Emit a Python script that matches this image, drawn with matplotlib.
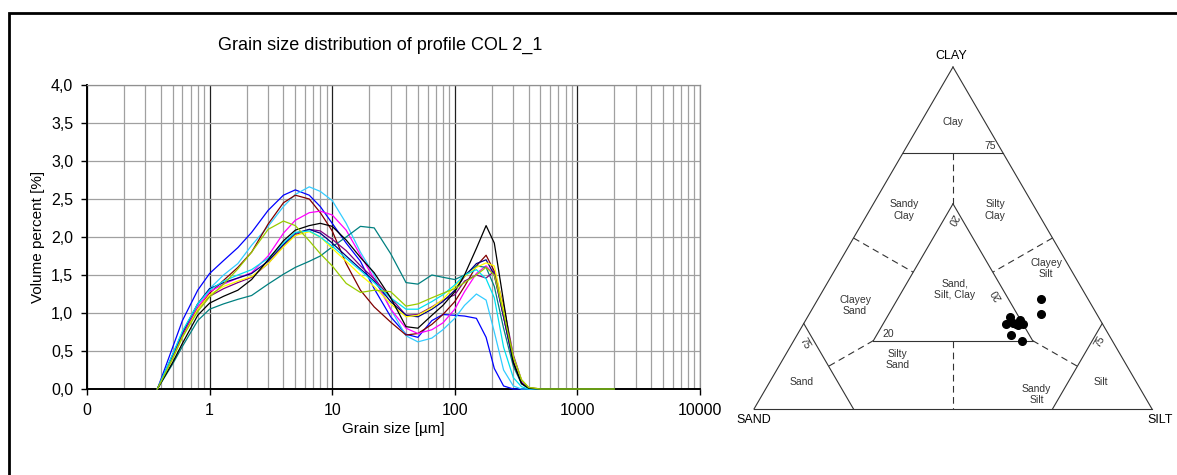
import numpy as np
import matplotlib
matplotlib.use('Agg')
import matplotlib.pyplot as plt
from matplotlib.patches import Rectangle

plt.rcParams['font.family'] = ['Liberation Sans', 'DejaVu Sans']

# grain size classes (um)
sizes = [0.375, 0.5, 0.6, 0.8, 1, 1.3, 1.7, 2.2, 3, 4, 5, 6.5, 8, 10, 13, 17, 22,
         30, 40, 50, 65, 80, 100, 120, 150, 180, 210, 250, 300, 350, 400, 500, 2000]

# volume percent per sample
blue = [0, 0.55, 0.9, 1.3, 1.52, 1.69, 1.86, 2.06, 2.35, 2.55, 2.62, 2.55, 2.4, 2.18, 1.92, 1.68, 1.32,
        0.95, 0.72, 0.68, 0.9, 0.98, 0.97, 0.96, 0.93, 0.68, 0.27, 0.04, 0, 0, 0, 0, 0]
sky = [0, 0.45, 0.75, 1.12, 1.32, 1.5, 1.65, 1.89, 2.14, 2.4, 2.56, 2.66, 2.6, 2.48, 2.18, 1.8, 1.5,
       1.05, 0.7, 0.62, 0.67, 0.78, 0.93, 1.1, 1.25, 1.17, 0.75, 0.25, 0.04, 0, 0, 0, 0]
maroon = [0, 0.42, 0.7, 1.05, 1.26, 1.43, 1.6, 1.8, 2.17, 2.45, 2.55, 2.5, 2.32, 2.08, 1.65, 1.3, 1.08,
          0.88, 0.71, 0.73, 0.85, 0.98, 1.15, 1.35, 1.62, 1.76, 1.55, 0.95, 0.35, 0.08, 0.01, 0, 0]
magenta = [0, 0.43, 0.72, 1.08, 1.28, 1.38, 1.46, 1.53, 1.75, 2.05, 2.22, 2.32, 2.34, 2.29, 2.09, 1.76, 1.45,
           1.05, 0.8, 0.73, 0.78, 0.87, 1.05, 1.28, 1.52, 1.62, 1.5, 0.95, 0.38, 0.1, 0.01, 0, 0]
ygreen = [0, 0.4, 0.68, 1.02, 1.21, 1.38, 1.58, 1.8, 2.1, 2.21, 2.15, 1.95, 1.78, 1.62, 1.39, 1.27, 1.3,
          1.28, 1.09, 1.12, 1.2, 1.26, 1.32, 1.4, 1.5, 1.6, 1.5, 1.0, 0.42, 0.12, 0.02, 0, 0]
black = [0, 0.35, 0.6, 0.97, 1.13, 1.22, 1.3, 1.44, 1.7, 1.95, 2.09, 2.15, 2.18, 2.14, 1.96, 1.73, 1.53,
         1.2, 0.82, 0.8, 0.97, 1.1, 1.28, 1.5, 1.85, 2.15, 1.92, 1.15, 0.35, 0.07, 0.01, 0, 0]
teal = [0, 0.33, 0.56, 0.9, 1.05, 1.12, 1.18, 1.23, 1.38, 1.51, 1.6, 1.68, 1.75, 1.87, 2.0, 2.14, 2.12,
        1.78, 1.4, 1.38, 1.5, 1.47, 1.44, 1.5, 1.62, 1.6, 1.35, 0.8, 0.3, 0.07, 0.01, 0, 0]
purple = [0, 0.42, 0.7, 1.06, 1.22, 1.32, 1.4, 1.47, 1.65, 1.88, 2.03, 2.1, 2.08, 1.97, 1.82, 1.62, 1.45,
          1.2, 0.97, 0.98, 1.08, 1.17, 1.24, 1.42, 1.5, 1.46, 1.55, 1.1, 0.45, 0.12, 0.02, 0, 0]
navy = [0, 0.45, 0.74, 1.12, 1.32, 1.4, 1.46, 1.52, 1.68, 1.9, 2.05, 2.1, 2.05, 1.92, 1.75, 1.58, 1.42,
        1.15, 0.97, 0.95, 1.05, 1.15, 1.3, 1.48, 1.65, 1.7, 1.5, 0.95, 0.35, 0.08, 0.01, 0, 0]
yellow = [0, 0.4, 0.68, 1.05, 1.24, 1.35, 1.42, 1.48, 1.65, 1.87, 2.02, 2.07, 2.0, 1.85, 1.68, 1.5, 1.35,
          1.12, 0.95, 0.97, 1.07, 1.18, 1.35, 1.48, 1.6, 1.66, 1.62, 1.05, 0.42, 0.12, 0.02, 0, 0]
cyan = [0, 0.46, 0.76, 1.12, 1.3, 1.42, 1.5, 1.57, 1.72, 1.92, 2.06, 2.08, 2.0, 1.88, 1.72, 1.56, 1.4,
        1.2, 1.05, 1.05, 1.15, 1.24, 1.37, 1.5, 1.57, 1.45, 1.2, 0.55, 0.15, 0.03, 0, 0, 0]

series = [(blue, '#0000FF'), (sky, '#33CCFF'), (maroon, '#800000'), (magenta, '#FF00FF'),
          (teal, '#008080'), (purple, '#800080'), (navy, '#000080'), (yellow, '#FFFF00'),
          (cyan, '#00E0F0'), (black, '#000000'), (ygreen, '#99CC00')]

xticks = [0.1, 1, 10, 100, 1000, 10000]
xticklabels = ['0', '1', '10', '100', '1000', '10000']
yticks = [0, 0.5, 1, 1.5, 2, 2.5, 3, 3.5, 4]

# ternary samples (fractions)
sand = [0.118, 0.139, 0.223, 0.242, 0.217, 0.202, 0.200, 0.246, 0.228, 0.224, 0.214]
silt = [0.561, 0.582, 0.509, 0.509, 0.534, 0.538, 0.551, 0.537, 0.573, 0.525, 0.540]
clay = [0.321, 0.279, 0.268, 0.249, 0.249, 0.260, 0.249, 0.217, 0.199, 0.251, 0.246]

W, H = 1177, 475
fig = plt.figure(figsize=(W / 100, H / 100), dpi=100)

# outer frame
fig.add_artist(Rectangle((8.5 / W, -0.1), 1.5, (H - 13.5) / H + 0.1,
                         transform=fig.transFigure, fill=False, lw=2, ec='black'))

ax = fig.add_axes([87 / W, (H - 389) / H, 613 / W, 304 / H])
for vals, col in series:
    ax.plot(sizes, vals, color=col, lw=0.9, zorder=3, clip_on=False)
ax.set_xscale('log')
ax.set_xlim(0.1, 10000)
ax.set_ylim(0, 4)
ax.set_xticks(xticks)
ax.set_xticklabels(xticklabels)
ax.set_yticks(yticks)
ax.set_yticklabels([('%.1f' % v).replace('.', ',') for v in yticks])
ax.xaxis.set_minor_formatter(matplotlib.ticker.NullFormatter())
ax.tick_params(axis='x', which='minor', length=0)
ax.tick_params(axis='both', which='major', labelsize=11.5, length=4, width=1, pad=6)
ax.grid(True, which='minor', axis='x', color='#a0a0a0', lw=0.9)
ax.grid(True, which='major', axis='x', color='#202020', lw=0.9)
ax.grid(True, which='major', axis='y', color='#a0a0a0', lw=0.9)
ax.set_axisbelow(True)
for s in ['top', 'right']:
    ax.spines[s].set_color('#909090')
    ax.spines[s].set_linewidth(0.9)
ax.spines['left'].set_linewidth(1.4)
ax.spines['bottom'].set_linewidth(1.4)
ax.set_xlabel('Grain size [µm]', fontsize=11, labelpad=3)
ax.set_ylabel('Volume percent [%]', fontsize=11, labelpad=4)
fig.text(380 / W, 1 - 45 / H, 'Grain size distribution of profile COL 2_1', fontsize=13,
         ha='center', va='center')

# ternary diagram
h3 = np.sqrt(3) / 2
tx = fig.add_axes([754 / W, (H - 409) / H, 398 / W, 342 / H])
tx.set_xlim(0, 1)
tx.set_ylim(0, h3)
tx.axis('off')


def tern(sa, si, cl):
    return si + cl / 2, cl * h3


def seg(a, b, **kw):
    p, q = tern(*a), tern(*b)
    tx.plot([p[0], q[0]], [p[1], q[1]], clip_on=False, **kw)


solid = dict(color='#333333', lw=0.8)
dash = dict(color='#333333', lw=0.8, dashes=(6, 4))
outer = [(1, 0, 0), (0, 1, 0), (0, 0, 1), (1, 0, 0)]
for a, b in zip(outer[:-1], outer[1:]):
    seg(a, b, **solid)
inner = [(0.6, 0.2, 0.2), (0.2, 0.6, 0.2), (0.2, 0.2, 0.6), (0.6, 0.2, 0.2)]
for a, b in zip(inner[:-1], inner[1:]):
    seg(a, b, **solid)
seg((0.25, 0, 0.75), (0, 0.25, 0.75), **solid)
seg((0.75, 0, 0.25), (0.75, 0.25, 0), **solid)
seg((0.25, 0.75, 0), (0, 0.75, 0.25), **solid)
seg((0.125, 0.125, 0.75), (0.2, 0.2, 0.6), **dash)
seg((0.4, 0.4, 0.2), (0.5, 0.5, 0), **dash)
seg((0.5, 0, 0.5), (0.4, 0.2, 0.4), **dash)
seg((0, 0.5, 0.5), (0.2, 0.4, 0.4), **dash)
seg((0.6, 0.2, 0.2), (0.75, 0.125, 0.125), **dash)
seg((0.2, 0.6, 0.2), (0.125, 0.75, 0.125), **dash)

px, py = tern(np.array(sand), np.array(silt), np.array(clay))
tx.plot(px, py, 'o', color='black', ms=5.5, clip_on=False)

lab = dict(fontsize=7.5, color='#333333', ha='center', va='center', linespacing=1.15)
tx.text(0.501, 0.727, 'Clay', **lab)
tx.text(0.593, 0.666, '75', **lab)
tx.text(0.377, 0.504, 'Sandy\nClay', **lab)
tx.text(0.606, 0.504, 'Silty\nClay', **lab)
tx.text(0.497, 0.479, '20', rotation=-120, **lab)
tx.text(0.610, 0.289, '20', rotation=120, **lab)
tx.text(0.338, 0.190, '20', **lab)
tx.text(0.505, 0.303, 'Sand,\nSilt, Clay', **lab)
tx.text(0.734, 0.355, 'Clayey\nSilt', **lab)
tx.text(0.254, 0.262, 'Clayey\nSand', **lab)
tx.text(0.128, 0.166, '75', rotation=-60, **lab)
tx.text(0.360, 0.126, 'Silty\nSand', **lab)
tx.text(0.120, 0.068, 'Sand', **lab)
tx.text(0.710, 0.037, 'Sandy\nSilt', **lab)
tx.text(0.872, 0.068, 'Silt', **lab)
tx.text(0.869, 0.170, '75', rotation=60, **lab)
corner = dict(fontsize=9, color='black', ha='center', va='center')
tx.text(0.496, 0.894, 'CLAY', **corner)
tx.text(0.0, -0.028, 'SAND', **corner)
tx.text(1.02, -0.028, 'SILT', **corner)

fig.savefig('out.png', dpi=100)
